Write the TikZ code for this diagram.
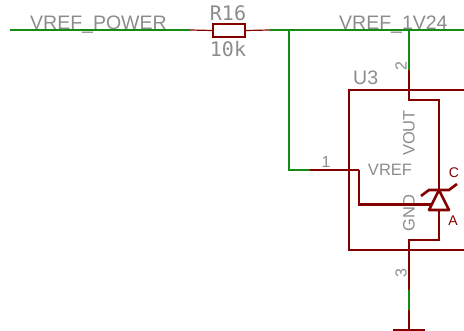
\documentclass[tikz,border=0pt]{standalone}
\usepackage{fontspec}
\setmainfont{Liberation Sans}
\newfontfamily\vecfont{DejaVu Sans Mono}
\definecolor{netgreen}{RGB}{20,140,20}
\definecolor{partred}{RGB}{132,0,0}
\definecolor{labelgray}{RGB}{140,140,140}
\tikzset{net/.style={draw=netgreen,line width=1.15pt},
 pinwire/.style={draw=partred,line width=1.2pt},
 body/.style={draw=partred,line width=2.6pt},
 netlabel/.style={text=labelgray,font=\fontsize{19.5}{20}\selectfont,anchor=base west,inner sep=0pt},
 partlabel/.style={text=labelgray,font=\vecfont\fontsize{20}{21}\selectfont,inner sep=0pt},
 pinlabel/.style={text=labelgray,font=\fontsize{16}{17}\selectfont,inner sep=0pt},
 pinname/.style={text=labelgray,font=\fontsize{16.5}{17}\selectfont,inner sep=0pt},
 terminal/.style={text=partred,font=\fontsize{14}{15}\selectfont,inner sep=0pt},
 }
\begin{document}
\begin{tikzpicture}[x=1pt,y=-1pt]
        \useasboundingbox (0,0) rectangle (464,331);
        \node[netlabel] (powerlabel) at (30,30) {VREF\_POWER};
        \node[netlabel] (vreflabel) at (339,30) {VREF\_1V24};
        \node[partlabel] (rname) at (228,13) {R16};
        \node[partlabel] (rvalue) at (228,49) {10k};
        \node[netlabel] (uname) at (353,85) {U3};
        \node[pinlabel] (pinone) at (326,162) {1};
        \node[pinlabel,rotate=90] (pintwo) at (401,66) {2};
        \node[pinlabel,rotate=90] (pinthree) at (401,273) {3};
        \node[pinname] (vrefpin) at (390,170) {VREF};
        \node[pinname,rotate=90] (voutpin) at (409,133) {VOUT};
        \node[pinname,rotate=90] (gndpin) at (409,213) {GND};
        \node[terminal] (cathode) at (454,173) {C};
        \node[terminal] (anode) at (453,221) {A};
        % nets
        \coordinate (netstart) at (10,30);
        \coordinate (rleftend) at (190,30);
        \coordinate (rrightend) at (270,30);
        \coordinate (branch) at (289,30);
        \coordinate (corner) at (289,170);
        \coordinate (pinonestart) at (310,170);
        \coordinate (netend) at (464,30);
        \coordinate (vouttop) at (409,30);
        \coordinate (pintwostart) at (409,70);
        \coordinate (pinthreemid) at (409,290);
        \coordinate (pinthreeend) at (409,310);
        \draw[net] (netstart) -- (rleftend);
        \draw[net] (rrightend) -- (netend);
        \draw[net] (branch) -- (corner) -- (pinonestart);
        \draw[net] (vouttop) -- (pintwostart);
        \draw[net] (pinthreemid) -- (pinthreeend);
        % resistor
        \node[draw=partred,line width=2pt,fill=white,minimum width=32pt,minimum height=13pt,inner sep=0pt] (resistor) at (229,30.5) {};
        \draw[pinwire] (rleftend) -- (resistor.west);
        \draw[pinwire] (resistor.east) -- (rrightend);
        % part body
        \coordinate (boxtop) at (409,90);
        \coordinate (boxbottom) at (409,250);
        \coordinate (gateend) at (359,170);
        \coordinate (boxlefttop) at (349,90);
        \coordinate (boxleftbottom) at (349,250);
        \coordinate (boxrighttop) at (464,90);
        \coordinate (boxrightbottom) at (464,250);
        \coordinate (apex) at (439,190);
        \coordinate (baseleft) at (429,210);
        \coordinate (baseright) at (449,210);
        \coordinate (basemid) at (439,210);
        \draw[body] (boxrighttop) -- (boxlefttop) -- (boxleftbottom) -- (boxrightbottom);
        \draw[pinwire] (pinonestart) -- (gateend);
        \draw[pinwire] (pintwostart) -- (boxtop);
        \draw[pinwire] (boxbottom) -- (pinthreemid);
        \draw[pinwire] (pinthreeend) -- (409,330);
        \draw[body] (boxtop) -- (409,100) -- (439,100) -- (apex);
        \draw[body] (gateend) -- (359,204.5) -- (432,204.5);
        \draw[body] (basemid) -- (439,240) -- (409,240) -- (boxbottom);
        \draw[body,line join=round] (apex) -- (baseright) -- (baseleft) -- cycle;
        \draw[body] (421,196) -- (429,190) -- (449,190) -- (457,184);
        \draw[body] (393,330) -- (425,330);
    \end{tikzpicture}
\end{document}
